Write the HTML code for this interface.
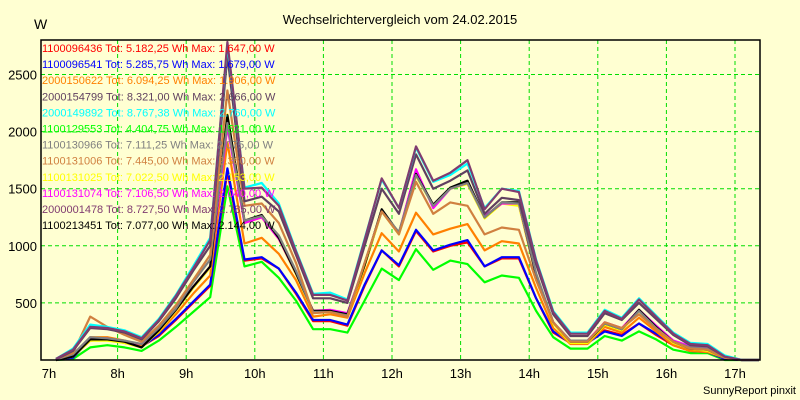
<!DOCTYPE html>
<html><head><meta charset="utf-8"><style>
body{margin:0;background:#ffffd2;}
svg{display:block;font-family:"Liberation Sans",sans-serif;}
</style></head><body>
<svg id="chart" width="800" height="400">
<rect x="0" y="0" width="800" height="400" fill="#ffffd2"/>
<text x="400" y="24" text-anchor="middle" font-size="13" fill="#000">Wechselrichtervergleich vom 24.02.2015</text>
<text x="34" y="29" font-size="14" fill="#000">W</text>
<text x="796" y="394" text-anchor="end" font-size="11" fill="#000">SunnyReport pinxit</text>
<g id="grid"></g><g id="ticks"></g><g id="series"></g><g id="legend"></g>
<rect x="41" y="40" width="719" height="320" fill="none" stroke="#000" stroke-width="1.5"/>
</svg>
<script>
const yTicks=[500,1000,1500,2000,2500];
const xHours=[7,8,9,10,11,12,13,14,15,16,17];
const xLabels=["7h","8h","9h","10h","11h","12h","13h","14h","15h","16h","17h"];
const times=[];for(let i=0;i<42;i++)times.push(7.1+i*0.25);
const names=["1100096436","1100096541","2000150622","2000154799","2000149892","1100129553","1100130966","1100131006","1100131025","1100131074","2000001478","1100213451"];
const totals=["5.182,25","5.285,75","6.094,25","8.321,00","8.767,38","4.404,75","7.111,25","7.445,00","7.022,50","7.106,50","8.727,50","7.077,00"];
const maxes=["1.647,00","1.679,00","1.906,00","2.666,00","2.760,00","1.521,00","2.075,00","2.360,00","2.153,00","2.040,00","2.785,00","2.144,00"];
const colors=["#ff0000","#0000ff","#ff8000","#604060","#00ffff","#00ff00","#808080","#d08040","#ffff00","#ff00ff","#803c70","#000000"];
const sRed=[0,30,170,180,150,120,210,350,500,650,1647,870,890,800,580,340,340,300,650,960,820,1130,950,1000,1030,820,890,890,540,240,150,150,260,220,320,220,130,80,70,10,0,0];
const sBlue=[0,20,180,180,160,120,220,360,510,660,1679,880,900,800,590,350,350,310,660,960,830,1140,960,1010,1050,820,900,900,540,250,150,150,250,210,320,230,140,80,70,10,0,0];
const sOrange=[0,40,200,200,170,130,240,400,580,740,1906,1020,1070,930,700,380,400,370,760,1110,950,1290,1100,1150,1190,960,1040,1020,630,280,140,140,290,240,370,250,130,80,70,20,0,0];
const sDark=[5,80,280,270,240,180,340,540,780,1000,2666,1390,1430,1300,920,540,540,500,1000,1500,1280,1800,1500,1570,1660,1280,1420,1400,840,400,210,210,410,350,500,360,220,130,120,30,0,0];
const sCyan=[10,100,310,290,260,200,360,570,820,1070,2760,1510,1550,1370,960,580,590,530,1060,1580,1330,1860,1560,1620,1720,1330,1500,1480,880,430,240,240,440,370,540,390,240,150,140,40,0,0];
const sGreen=[0,10,110,130,110,80,170,290,420,550,1521,820,860,720,520,270,270,240,520,800,700,970,790,870,840,680,740,720,430,200,100,100,210,170,250,180,90,60,60,0,0,0];
const sGray=[5,50,200,190,170,140,280,450,680,880,2075,1220,1260,1090,780,420,420,390,850,1300,1120,1620,1350,1500,1550,1250,1380,1370,760,330,170,170,320,270,430,280,160,110,100,20,0,0];
const sTan=[10,60,380,290,220,160,300,480,700,920,2360,1350,1370,1200,850,410,420,380,850,1300,1100,1560,1280,1380,1350,1100,1160,1140,700,330,160,160,330,280,400,270,160,100,90,20,0,0];
const sYellow=[0,30,170,170,150,110,250,430,630,810,2150,1200,1250,1060,750,420,420,390,820,1300,1100,1610,1350,1500,1540,1240,1370,1350,730,320,150,150,310,260,430,280,150,100,80,20,0,0];
const sMagenta=[0,40,190,190,160,140,260,440,640,820,2040,1200,1250,1060,760,430,440,410,840,1310,1110,1670,1330,1500,1550,1260,1370,1370,740,330,170,170,330,280,440,300,170,120,110,30,0,0];
const sPurple=[10,90,290,280,250,190,350,560,800,1050,2785,1500,1510,1350,950,570,570,520,1050,1590,1330,1870,1570,1640,1750,1320,1500,1470,870,420,230,230,430,360,530,380,230,140,130,30,0,0];
const sBlack=[0,30,180,180,160,110,260,440,640,820,2144,1220,1270,1070,760,430,430,400,830,1320,1110,1630,1360,1510,1570,1250,1380,1380,740,330,160,160,320,270,440,290,160,100,90,20,0,0];
const seriesData=[sRed,sBlue,sOrange,sDark,sCyan,sGreen,sGray,sTan,sYellow,sMagenta,sPurple,sBlack];
const drawOrder=[5,0,1,2,8,9,11,6,7,3,4,10];
const NS="http://www.w3.org/2000/svg";
const X=h=>49+(h-7)*68.6;
const Y=v=>360-v*0.1142;
function mk(tag,attrs,parent){const e=document.createElementNS(NS,tag);for(const k in attrs)e.setAttribute(k,attrs[k]);parent.appendChild(e);return e;}
const grid=document.getElementById('grid'),ticks=document.getElementById('ticks');
yTicks.forEach(v=>{
 const l=mk('line',{x1:41,x2:760,y1:Y(v),y2:Y(v),stroke:'#00dd00','stroke-dasharray':'4,3'},grid);
 
 
 const t=mk('text',{x:37,y:Y(v)+5,'text-anchor':'end','font-size':13,fill:'#000'},ticks);
 
 
 t.textContent=v;
});
xHours.forEach((h,i)=>{
 if(i>0&&i<xHours.length){const l=mk('line',{x1:X(h),x2:X(h),y1:40,y2:360,stroke:'#00dd00','stroke-dasharray':'4,3'},grid);
 
 }
 const t=mk('text',{x:X(h),y:378,'text-anchor':'middle','font-size':13,fill:'#000'},ticks);
 
 
 t.textContent=xLabels[i];
});
const sg=document.getElementById('series');
drawOrder.forEach(si=>{
 const pts=seriesData[si].map((v,i)=>X(times[i]).toFixed(1)+','+Y(v).toFixed(1)).join(' ');
 const p=mk('polyline',{points:pts,fill:'none',stroke:colors[si],'stroke-width':2.2,'stroke-linejoin':'round'},sg);
 
 
});
const lg=document.getElementById('legend');
names.forEach((n,i)=>{
 const t=mk('text',{x:42,y:52+i*16.1,'font-size':11,fill:colors[i]},lg);
 
 
 t.textContent=n+' Tot: '+totals[i]+' Wh Max: '+maxes[i]+' W';
});
</script>
</body></html>
